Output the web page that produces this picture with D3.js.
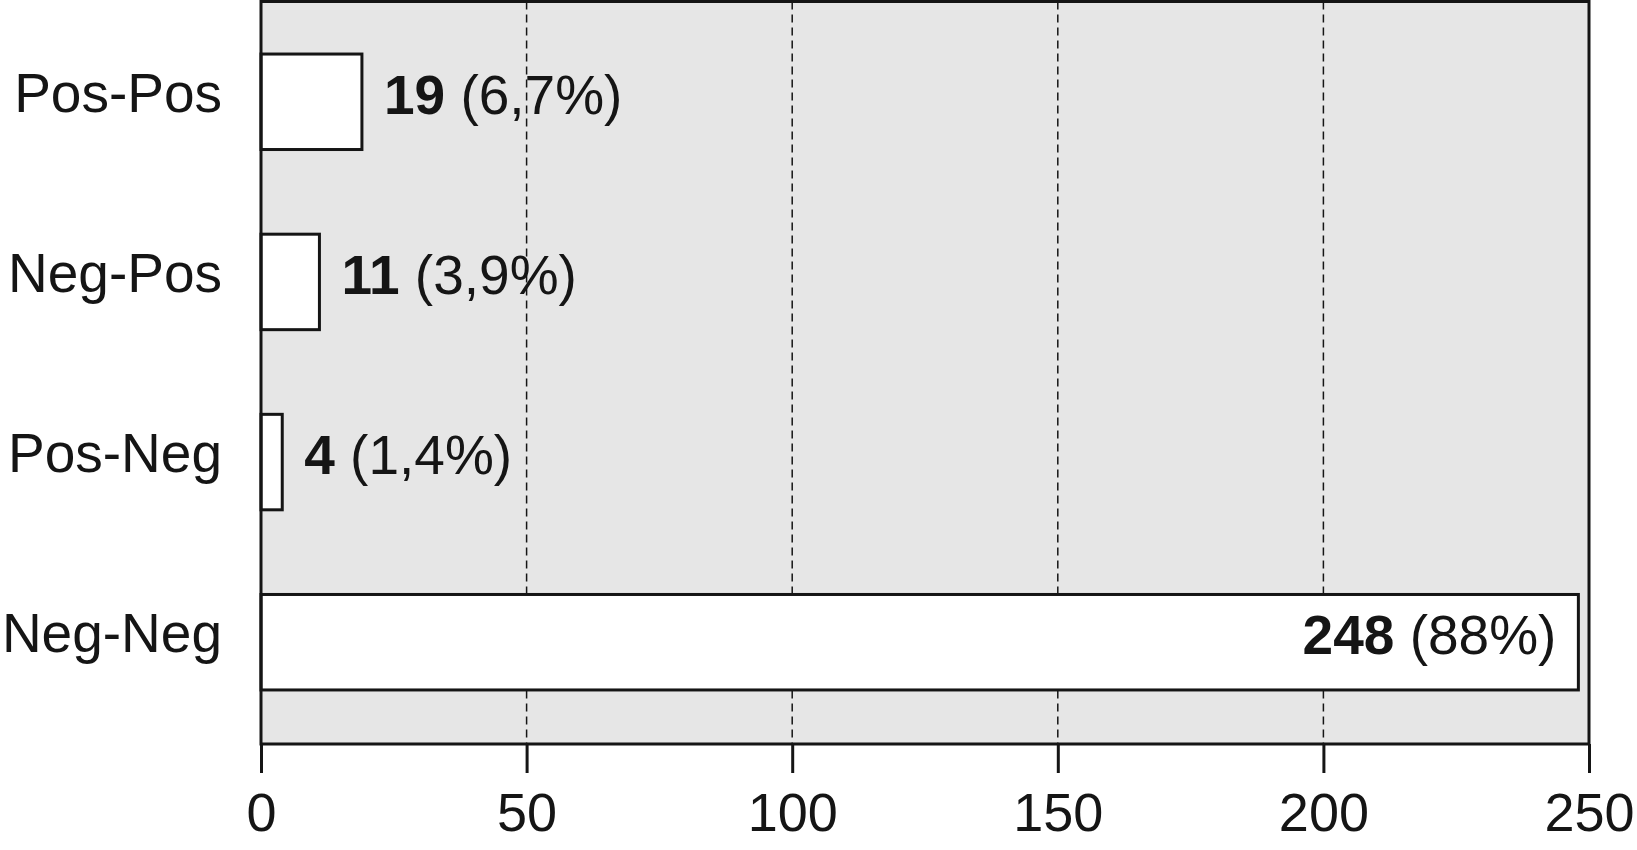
<!DOCTYPE html>
<html>
<head>
<meta charset="utf-8">
<script src="https://cdn.jsdelivr.net/npm/d3@7"></script>
<style>
  html, body { margin: 0; padding: 0; background: #fff; }
  svg { display: block; font-family: "Liberation Sans", Arial, sans-serif; }
</style>
</head>
<body>
<svg id="chart" width="1637" height="850"></svg>
<script>
const categories = ["Pos-Pos", "Neg-Pos", "Pos-Neg", "Neg-Neg"];
const counts = [19, 11, 4, 248];
const percents = ["6,7%", "3,9%", "1,4%", "88%"];
const xTicks = [0, 50, 100, 150, 200, 250];
const gridTicks = [50, 100, 150, 200];

(function () {
const svg = d3.select("#chart");
const pLeft = 261, pRight = 1589, pTop = 1.5, pBottom = 744;
const ink = "#151515";

const x = d3.scaleLinear().domain([0, 250]).range([pLeft, pRight]);
const y = d3.scaleBand().domain(categories).range([0, pBottom])
  .paddingInner(0.47).paddingOuter(0.3);

// plot background
svg.append("rect")
  .attr("x", pLeft).attr("y", pTop)
  .attr("width", pRight - pLeft).attr("height", pBottom - pTop)
  .attr("fill", "#e6e6e6");

// dashed grid
svg.append("g").selectAll("line").data(gridTicks).join("line")
  .attr("x1", d => x(d)).attr("x2", d => x(d))
  .attr("y1", pTop).attr("y2", pBottom)
  .attr("stroke", ink).attr("stroke-width", 1.5)
  .attr("stroke-dasharray", "8,5");

// bars
svg.append("g").selectAll("rect").data(categories).join("rect")
  .attr("x", x(0))
  .attr("y", d => y(d))
  .attr("width", (d, i) => x(counts[i]) - x(0))
  .attr("height", y.bandwidth())
  .attr("fill", "#fff")
  .attr("stroke", ink).attr("stroke-width", 3);

// frame
svg.append("rect")
  .attr("x", pLeft).attr("y", pTop)
  .attr("width", pRight - pLeft).attr("height", pBottom - pTop)
  .attr("fill", "none").attr("stroke", ink).attr("stroke-width", 3);

// x axis
const xAxis = svg.append("g")
  .attr("transform", `translate(0,${pBottom})`)
  .call(d3.axisBottom(x).tickValues(xTicks).tickSize(29).tickPadding(20).tickFormat(d3.format("d")));
xAxis.select(".domain").remove();
xAxis.selectAll(".tick line").attr("stroke", ink).attr("stroke-width", 3);
xAxis.selectAll(".tick text")
  .attr("fill", ink).attr("font-size", 54)
  .attr("font-family", "'Liberation Sans', Arial, sans-serif");

// category labels
svg.append("g").selectAll("text").data(categories).join("text")
  .attr("x", pLeft - 39)
  .attr("y", d => y(d) + y.bandwidth() / 2 - 10)
  .attr("dy", "0.36em")
  .attr("text-anchor", "end")
  .attr("font-size", 55)
  .attr("fill", ink)
  .text(d => d);

// value labels
const vl = svg.append("g").selectAll("text").data(categories).join("text")
  .attr("x", (d, i) => i === 3 ? x(counts[i]) - 22 : x(counts[i]) + 22)
  .attr("y", d => y(d) + y.bandwidth() / 2 - 8)
  .attr("dy", "0.36em")
  .attr("text-anchor", (d, i) => i === 3 ? "end" : "start")
  .attr("font-size", 55)
  .attr("fill", ink);
vl.append("tspan").attr("font-weight", "bold").text((d, i) => counts[i]);
vl.append("tspan").text((d, i) => " (" + percents[i] + ")");
})();
</script>
</body>
</html>
